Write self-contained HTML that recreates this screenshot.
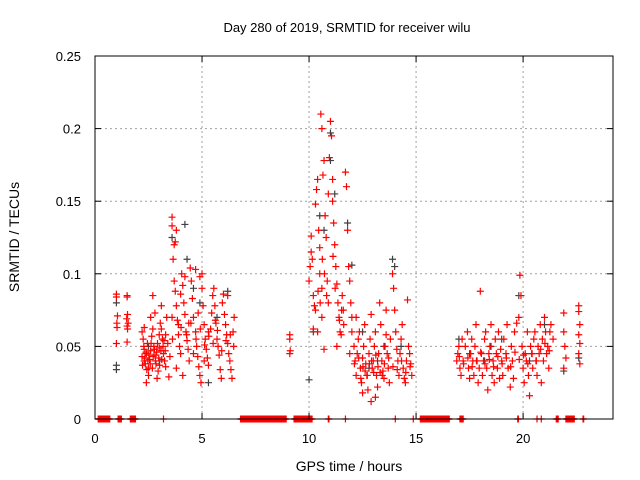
<!DOCTYPE html>
<html><head><meta charset="utf-8"><style>
body{margin:0;background:#fff}
svg{display:block;font-family:"Liberation Sans",sans-serif}
</style></head><body>
<svg id="chart" width="640" height="480">
<text x="347" y="32" font-size="13" text-anchor="middle">Day 280 of 2019, SRMTID for receiver wilu</text>
<text x="349" y="471" font-size="14" text-anchor="middle">GPS time / hours</text>
<text transform="translate(19,237) rotate(-90)" font-size="14" text-anchor="middle">SRMTID / TECUs</text>
<g id="grid"></g>
<g id="marks"></g>
<rect x="95" y="56" width="518" height="363" fill="none" stroke="#000" stroke-width="1"/>
<g id="ticks"></g>
</svg>
<script>
const xTicks=[0,5,10,15,20];
const yTicks=[0,0.05,0.1,0.15,0.2,0.25];
const yTickLabels=["0","0.05","0.1","0.15","0.2","0.25"];
const zeroStarts=[0.15,1.08,1.65,3.2,3.5,4.2,6.8,9.3,10.9,11.7,14.03,14.87,15.2,17.05,19.75,20.65,20.85,21.55,22.0,22.8];
const zeroEnds=[0.7,1.25,1.9,3.2,3.4,4.15,8.95,10.15,10.95,11.7,14.05,14.87,16.55,17.2,19.8,20.65,20.85,21.65,22.4,22.85];
const redTimes=[1.0,1.0,1.02,1.03,1.0,1.05,1.5,1.5,1.52,1.48,1.5,1.52,1.5,1.55,
2.2,2.25,2.3,2.2,2.3,2.35,2.4,2.45,2.5,2.5,2.55,2.6,2.65,2.7,2.75,2.8,2.85,2.9,2.95,3.0,3.0,3.05,3.1,3.15,3.2,3.25,3.3,3.3,3.35,3.4,3.45,3.5,2.4,2.6,2.3,2.8,3.1,2.7,
2.22,2.28,2.33,2.38,2.42,2.47,2.52,2.58,2.62,2.68,2.72,2.78,2.82,2.88,2.92,2.98,3.02,3.08,3.12,3.18,3.22,3.28,
3.6,3.6,3.7,3.65,3.7,3.75,3.8,3.6,3.9,3.9,3.95,4.0,4.05,4.1,4.15,4.2,4.25,4.3,4.35,4.4,4.1,3.8,4.0,4.2,4.45,4.5,4.55,4.6,4.7,4.75,4.8,4.85,4.9,4.95,5.0,5.0,5.05,5.1,5.15,5.2,5.25,5.3,5.4,5.45,5.5,5.55,5.6,5.65,5.7,5.75,5.8,5.85,5.9,5.95,6.0,6.05,6.1,6.15,6.2,6.25,6.3,6.35,6.4,6.45,6.5,4.7,4.9,3.75,3.8,5.3,4.6,6.2,5.1,
3.62,3.85,4.02,4.28,4.48,4.72,4.92,5.12,5.32,5.52,5.72,5.92,6.12,6.32,6.48,4.38,4.82,5.62,
9.1,9.1,9.12,9.1,
10.0,10.05,10.1,10.1,10.15,10.2,10.25,10.3,10.35,10.4,10.45,10.5,10.5,10.55,10.6,10.6,10.65,10.7,10.75,10.8,10.85,10.9,10.95,11.0,11.05,11.1,11.15,11.2,11.25,11.3,11.35,11.4,11.45,11.5,11.55,11.6,11.7,11.75,11.8,11.85,11.9,11.95,12.0,12.0,10.4,10.7,10.2,11.1,10.9,10.3,10.6,11.3,11.9,
10.42,10.52,10.62,10.72,10.82,11.12,11.22,11.42,11.52,11.62,
12.1,12.15,12.2,12.25,12.3,12.35,12.4,12.45,12.5,12.55,12.6,12.65,12.7,12.75,12.8,12.85,12.9,12.95,13.0,13.05,13.1,13.15,13.2,13.25,13.3,13.35,13.4,13.45,13.5,13.55,13.6,13.65,13.7,13.75,13.8,13.9,13.95,14.0,14.05,14.1,14.15,14.2,14.25,14.3,14.35,14.4,14.45,14.5,14.55,14.6,14.65,14.7,14.75,14.8,12.2,12.9,13.6,12.5,13.1,
12.12,12.32,12.52,12.72,12.92,13.12,13.32,13.52,13.72,13.92,14.12,14.32,14.52,14.72,12.42,12.62,12.82,13.02,13.22,13.42,
16.9,16.95,17.0,17.05,17.1,17.15,17.2,17.3,17.4,17.45,17.5,17.55,17.6,17.65,17.7,17.75,17.8,17.85,17.9,17.95,18.0,18.05,18.1,18.15,18.2,18.25,18.3,18.35,18.4,18.45,18.5,18.55,18.6,18.65,18.7,18.75,18.8,18.85,18.9,18.95,19.0,19.05,19.1,19.2,19.25,19.3,19.4,19.45,19.5,19.55,19.6,19.7,19.8,19.85,19.9,19.95,20.0,20.05,20.1,20.15,20.2,20.25,20.3,20.35,20.4,20.45,20.5,20.55,20.6,20.65,20.7,20.75,20.8,20.85,20.9,20.95,21.0,21.05,21.1,21.15,21.2,21.25,21.3,21.4,21.9,21.9,21.95,22.0,21.9,22.6,22.6,22.65,22.6,22.65,22.6,22.65,
17.02,17.22,17.42,17.62,17.82,18.02,18.22,18.42,18.62,18.82,19.02,19.22,19.42,19.62,19.82,20.02,20.22,20.42,20.62,20.82,21.02,21.22];
const redValues=[.086,.084,.066,.063,.052,.071,.085,.084,.072,.069,.064,.062,.053,.066,
.060,.055,.048,.043,.040,.038,.045,.052,.035,.030,.041,.047,.057,.062,.050,.044,.038,.028,.033,.049,.058,.066,.062,.055,.045,.040,.036,.058,.070,.052,.029,.043,.025,.070,.063,.073,.078,.085,
.037,.050,.042,.046,.034,.040,.044,.038,.052,.035,.043,.048,.040,.046,.052,.042,.037,.047,.041,.050,.054,.047,
.139,.133,.120,.110,.095,.088,.078,.070,.065,.058,.050,.045,.100,.092,.080,.072,.060,.054,.048,.040,.030,.035,.086,.098,.104,.095,.083,.070,.060,.050,.043,.036,.030,.025,.100,.090,.078,.065,.055,.048,.042,.037,.062,.073,.085,.090,.078,.066,.055,.050,.044,.034,.028,.080,.086,.072,.065,.058,.052,.045,.040,.034,.028,.060,.070,.103,.098,.122,.130,.060,.045,.085,.040,
.055,.068,.063,.058,.066,.055,.062,.051,.057,.052,.061,.047,.054,.058,.050,.066,.073,.068,
.058,.055,.047,.045,
.095,.105,.115,.126,.110,.085,.078,.148,.158,.165,.130,.118,.100,.210,.200,.090,.168,.178,.140,.125,.095,.080,.180,.205,.195,.150,.135,.120,.105,.093,.080,.070,.060,.058,.085,.075,.170,.160,.130,.105,.095,.080,.070,.060,.060,.048,.062,.165,.155,.075,.070,.050,.045,
.088,.080,.110,.100,.085,.112,.090,.068,.075,.065,
.050,.040,.030,.045,.055,.060,.035,.025,.042,.050,.065,.038,.030,.020,.045,.055,.012,.035,.040,.050,.060,.030,.022,.045,.080,.065,.040,.033,.028,.050,.058,.045,.035,.025,.055,.100,.090,.075,.060,.048,.040,.030,.045,.055,.065,.035,.028,.025,.040,.082,.050,.045,.038,.030,.070,.072,.075,.018,.015,
.038,.042,.036,.030,.040,.044,.032,.038,.042,.036,.034,.040,.032,.036,.028,.033,.038,.032,.036,.030,
.040,.045,.050,.035,.030,.055,.040,.050,.060,.035,.028,.045,.055,.040,.030,.050,.065,.040,.025,.035,.088,.045,.030,.040,.055,.060,.035,.020,.045,.050,.065,.030,.040,.025,.055,.045,.035,.060,.028,.048,.040,.030,.055,.045,.065,.035,.022,.050,.040,.028,.060,.066,.070,.099,.085,.050,.035,.025,.045,.040,.060,.030,.016,.050,.045,.035,.055,.060,.040,.030,.050,.045,.065,.025,.055,.040,.070,.060,.045,.050,.035,.060,.065,.055,.073,.060,.050,.042,.035,.078,.074,.065,.058,.052,.045,.038,
.043,.038,.042,.036,.040,.046,.038,.041,.036,.043,.038,.042,.036,.046,.041,.044,.038,.045,.040,.048,.052,.047];
const blackTimes=[1.0,1.0,1.0,3.6,4.2,4.3,4.6,5.3,6.2,10.0,10.2,10.5,10.7,11.0,11.0,11.2,11.8,12.0,12.5,13.2,13.9,14.0,14.3,17.0,17.5,18.5,19.0,19.8,20.3,21.0,21.9,22.6,2.5,3.0,4.9,5.7,13.5,12.8,18.2];
const blackValues=[.037,.034,.080,.125,.134,.110,.090,.025,.088,.027,.060,.140,.130,.197,.178,.155,.135,.106,.060,.040,.110,.105,.050,.055,.045,.050,.055,.085,.040,.065,.033,.042,.050,.040,.080,.070,.050,.035,.040];

const X0=95,X1=613,Y0=419,Y1=56,XMAX=24.2,YMAX=0.25;
const xs=t=>X0+t/XMAX*(X1-X0);
const ys=v=>Y0-v/YMAX*(Y0-Y1);
const NS="http://www.w3.org/2000/svg";
function mk(tag,attrs,parent){const e=document.createElementNS(NS,tag);for(const k in attrs)e.setAttribute(k,attrs[k]);parent.appendChild(e);return e;}
const grid=document.getElementById('grid'),ticks=document.getElementById('ticks'),marks=document.getElementById('marks');
xTicks.forEach(t=>{const x=xs(t);
 if(t>0){const g=mk('line',{x1:x,x2:x,y1:Y1,y2:Y0,stroke:'#a0a0a0','stroke-dasharray':'2,3'},grid);
 
 }
 mk('line',{x1:x,x2:x,y1:Y0,y2:Y0-6,stroke:'#000'},ticks);
 mk('line',{x1:x,x2:x,y1:Y1,y2:Y1+6,stroke:'#000'},ticks);
 const l=mk('text',{x:x,y:443,'font-size':13,'text-anchor':'middle'},ticks);l.textContent=t;
 
 
});
yTicks.forEach((v,i)=>{const y=ys(v);
 if(v>0&&v<YMAX){const g=mk('line',{x1:X0,x2:X1,y1:y,y2:y,stroke:'#a0a0a0','stroke-dasharray':'2,3'},grid);
 
 }
 mk('line',{x1:X0,x2:X0+6,y1:y,y2:y,stroke:'#000'},ticks);
 mk('line',{x1:X1,x2:X1-6,y1:y,y2:y,stroke:'#000'},ticks);
 const l=mk('text',{x:81,y:y+5,'font-size':13,'text-anchor':'end'},ticks);l.textContent=yTickLabels[i];
 
 
});
function plus(t,v,col,name){const x=xs(t),y=ys(v);
 const p=mk('path',{d:`M${x-3.5},${y}h7M${x},${y-3.5}v7`,stroke:col,'stroke-width':1.2,fill:'none'},marks);
 
 
}
blackTimes.forEach((t,i)=>plus(t,blackValues[i],'#404040','black-point'));
redTimes.forEach((t,i)=>plus(t,redValues[i],'#ff0000','red-point'));
zeroStarts.forEach((s,i)=>{
 for(let t=s;t<=zeroEnds[i]+1e-9;t+=0.03) plus(t,0,'#ff0000','zero-point');
});
</script>
</body></html>
